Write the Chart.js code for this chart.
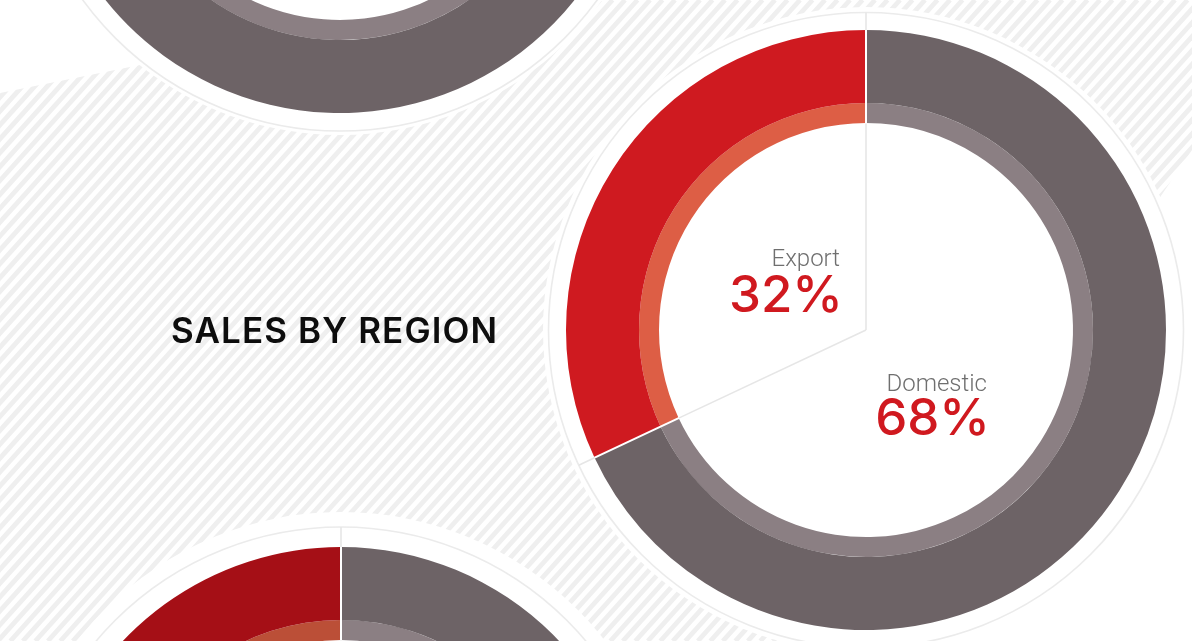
<!DOCTYPE html>
<html>
<head>
<meta charset="utf-8">
<script src="https://cdn.jsdelivr.net/npm/chart.js@4.4.1/dist/chart.umd.min.js"></script>
<style>
  html, body { margin: 0; padding: 0; width: 1192px; height: 641px; overflow: hidden; background: #ffffff; }
  canvas { position: absolute; }
  .txt { position: absolute; white-space: nowrap; line-height: 1; }
  #title { font-family: Inter, sans-serif; font-weight: 600; font-size: 35px; color: #0d0d0d; letter-spacing: 1.1px; }
  .lbl { font-family: Roboto, sans-serif; font-weight: 300; font-size: 24px; color: #6f6f6f; text-align: right; }
  .val { font-family: Inter, sans-serif; font-weight: 500; font-size: 51px; color: #d0191f; text-align: right; }
</style>
</head>
<body>
<canvas id="bg" width="1192" height="641" style="left:0;top:0"></canvas>
<canvas id="ringUpper"></canvas>
<canvas id="ringRegion"></canvas>
<canvas id="ringLower"></canvas>
<div id="title" class="txt"></div>

<script>
// ---- data ----
const titleText = 'SALES BY REGION';
const regionLabels = ['Domestic', 'Export'];
const regionShares = [68, 32];
const upperLabels = ['A', 'B'];
const upperShares = [70, 30];
const lowerLabels = ['A', 'B'];
const lowerShares = [60, 40];

// ---- palette ----
const GREY = '#6d6366', GREY_LIGHT = '#8b7f83';
const RED = '#cf1a20', RED_LIGHT = '#dd5e45';
const DARK_RED = '#a50f16', DARK_RED_LIGHT = '#bb4f37';

const PAGE_W = 1192, PAGE_H = 641;
const SIZE = 700;          // canvas for each ring
const PAD = 50;            // leaves a 600px chart area -> 300px outer radius

// ---- striped backdrop ----
(function drawBackdrop() {
  const c = document.getElementById('bg').getContext('2d');
  c.save();
  c.beginPath();
  c.moveTo(0, 93);
  c.lineTo(465, 0);
  c.lineTo(PAGE_W, 0);
  c.lineTo(PAGE_W, 150);
  c.lineTo(860, PAGE_H);
  c.lineTo(0, PAGE_H);
  c.closePath();
  c.clip();
  c.strokeStyle = '#efefef';
  c.lineWidth = 4.8;
  const step = 12.5;
  const run = PAGE_H / Math.tan(48 * Math.PI / 180);
  for (let k = -run - step; k < PAGE_W + step; k += step) {
    c.beginPath();
    c.moveTo(k, PAGE_H);
    c.lineTo(k + run, 0);
    c.stroke();
  }
  c.restore();
})();

// ---- white collar, outline ring and slice dividers ----
const collar = {
  id: 'collar',
  beforeDatasetsDraw(chart, args, opts) {
    const a = chart.getDatasetMeta(0).data[0];
    if (!a) return;
    const ctx = chart.ctx;
    ctx.save();
    ctx.fillStyle = '#ffffff';
    ctx.beginPath();
    ctx.arc(a.x, a.y, a.outerRadius + opts.clear, 0, Math.PI * 2);
    ctx.fill();
    ctx.strokeStyle = '#ebebeb';
    ctx.lineWidth = 1.6;
    ctx.beginPath();
    ctx.arc(a.x, a.y, a.outerRadius + opts.ring, 0, Math.PI * 2);
    ctx.stroke();
    ctx.restore();
  },
  afterDatasetsDraw(chart, args, opts) {
    const outer = chart.getDatasetMeta(0).data;
    const innerMeta = chart.getDatasetMeta(chart.data.datasets.length - 1).data;
    if (!outer.length) return;
    const cx = outer[0].x, cy = outer[0].y;
    const rOut = outer[0].outerRadius, rIn = innerMeta[0].innerRadius;
    const ctx = chart.ctx;
    const seg = (ang, r0, r1, color, w) => {
      ctx.strokeStyle = color;
      ctx.lineWidth = w;
      ctx.beginPath();
      ctx.moveTo(cx + Math.cos(ang) * r0, cy + Math.sin(ang) * r0);
      ctx.lineTo(cx + Math.cos(ang) * r1, cy + Math.sin(ang) * r1);
      ctx.stroke();
    };
    ctx.save();
    outer.forEach(arc => {
      const ang = arc.startAngle;
      seg(ang, 0, rIn, '#e6e6e6', 1.6);
      seg(ang, rIn - 0.5, rOut + 0.5, '#ffffff', 2);
      seg(ang, rOut, rOut + opts.ring, '#e6e6e6', 1.6);
    });
    ctx.restore();
  }
};

function ringChart(id, cx, cy, labels, shares, colors, lightColors, collarOpts) {
  const el = document.getElementById(id);
  el.width = SIZE;
  el.height = SIZE;
  el.style.left = (cx - SIZE / 2) + 'px';
  el.style.top = (cy - SIZE / 2) + 'px';
  return new Chart(el, {
    type: 'doughnut',
    data: {
      labels: labels,
      datasets: [
        { data: shares, backgroundColor: colors, borderWidth: 0, hoverOffset: 0, offset: 0, weight: 73 },
        { data: shares, backgroundColor: lightColors, borderWidth: 0, hoverOffset: 0, offset: 0, weight: 20 }
      ]
    },
    options: {
      responsive: false,
      animation: false,
      events: [],
      cutout: 207,
      spacing: 0,
      layout: { padding: PAD },
      plugins: {
        legend: { display: false },
        tooltip: { enabled: false },
        collar: collarOpts
      }
    },
    plugins: [collar]
  });
}

const REGION_CX = 866, REGION_CY = 330;

ringChart('ringUpper', 340, -187, upperLabels, upperShares,
  [GREY, RED], [GREY_LIGHT, RED_LIGHT], { clear: 22, ring: 18 });
ringChart('ringRegion', REGION_CX, REGION_CY, regionLabels, regionShares,
  [GREY, RED], [GREY_LIGHT, RED_LIGHT], { clear: 23, ring: 17.5 });
ringChart('ringLower', 341, 847, lowerLabels, lowerShares,
  [GREY, DARK_RED], [GREY_LIGHT, DARK_RED_LIGHT], { clear: 35, ring: 20 });

// ---- title and share labels ----
const title = document.getElementById('title');
title.textContent = titleText;
title.style.left = '171px';
title.style.top = '313px';

// label anchors relative to the ring centre: [name right dx, value right dx, name top dy, value top dy]
const anchors = [
  [121, 124, 41, 61],    // Domestic
  [-26, -23, -84, -62]   // Export
];
regionLabels.forEach((name, i) => {
  const [dxName, dxVal, dyName, dyVal] = anchors[i];
  const n = document.createElement('div');
  n.className = 'txt lbl';
  n.textContent = name;
  n.style.right = (PAGE_W - (REGION_CX + dxName)) + 'px';
  n.style.top = (REGION_CY + dyName) + 'px';
  document.body.appendChild(n);
  const v = document.createElement('div');
  v.className = 'txt val';
  v.textContent = regionShares[i] + '%';
  v.style.right = (PAGE_W - (REGION_CX + dxVal)) + 'px';
  v.style.top = (REGION_CY + dyVal) + 'px';
  document.body.appendChild(v);
});
</script>
</body>
</html>
